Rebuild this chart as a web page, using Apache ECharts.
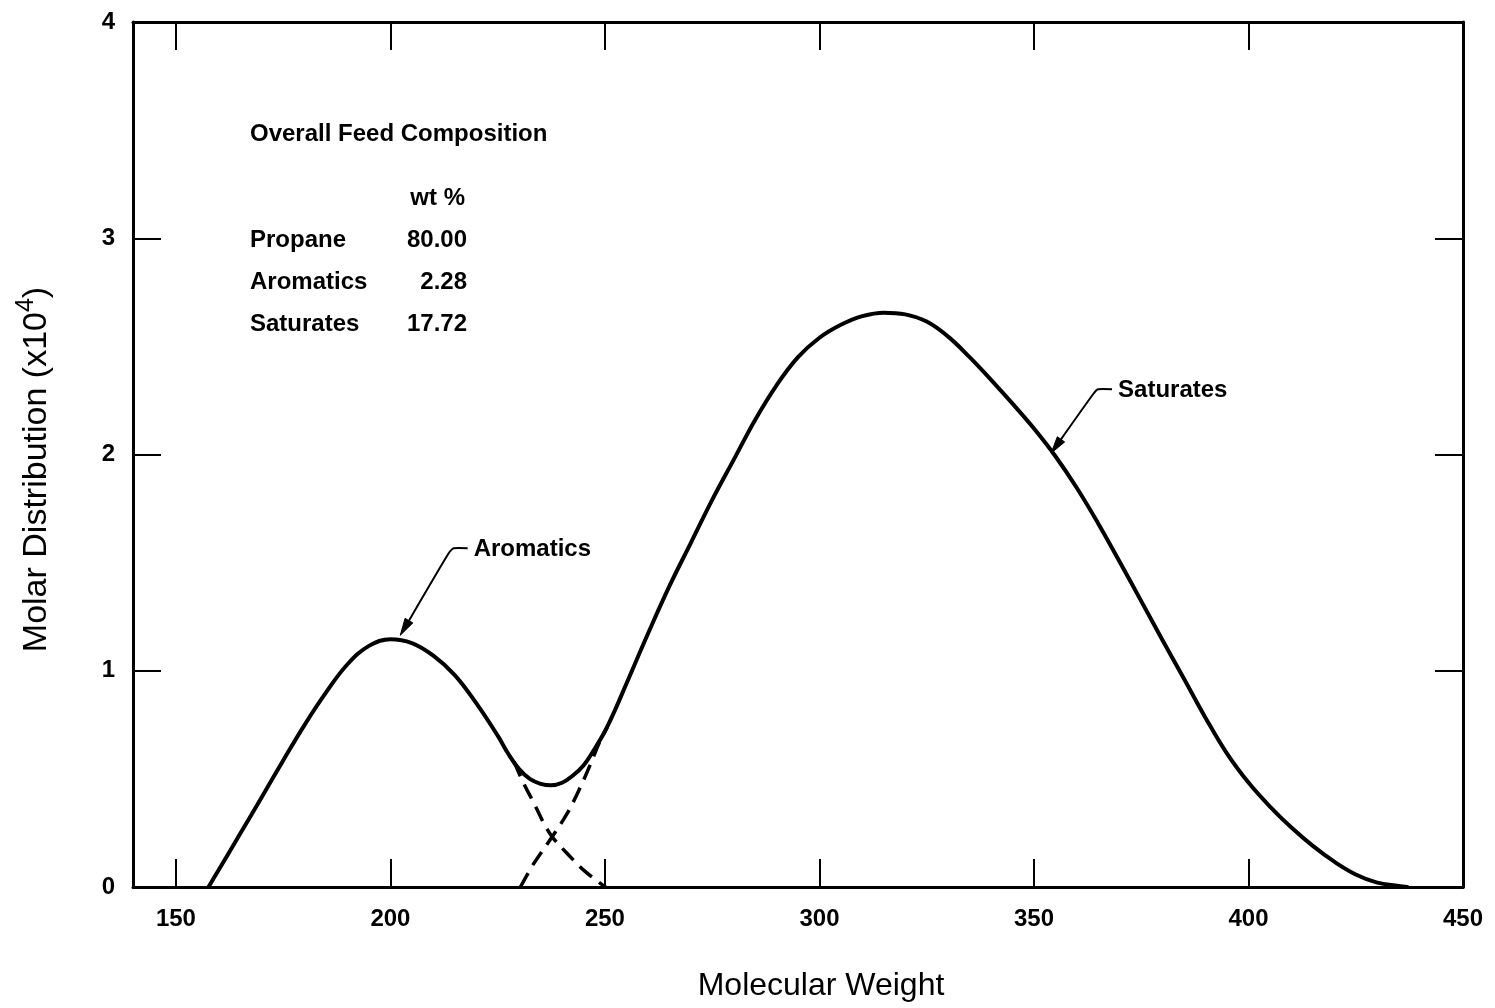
<!DOCTYPE html>
<html>
<head>
<meta charset="utf-8">
<title>Molar Distribution vs Molecular Weight</title>
<script src="https://cdn.jsdelivr.net/npm/echarts@6/dist/echarts.min.js"></script>
<style>
  html, body { margin: 0; padding: 0; background: #fff; }
  #chart { width: 1495px; height: 1008px; }
</style>
</head>
<body>
<div id="chart"></div>
<script>
// ---- data -------------------------------------------------------------
const mwTicks = [150, 200, 250, 300, 350, 400, 450];
const molarTicks = [0, 1, 2, 3, 4];

// total feed distribution (solid curve)
const feedMW = [
  157.6, 160, 165, 170, 175, 180, 185, 190, 195, 200,
  205, 210, 215, 220, 225, 227.5, 230, 232.5, 235, 237.5,
  240, 242.5, 245, 247.5, 250, 252.5, 255, 260, 265, 270,
  275, 280, 285, 290, 295, 300, 305, 310, 315, 320,
  325, 330, 335, 340, 345, 350, 355, 360, 365, 370,
  375, 380, 385, 390, 395, 400, 405, 410, 415, 420,
  425, 430, 435, 437
];
const feedMolar = [
  0.000, 0.080, 0.247, 0.415, 0.585, 0.750, 0.900, 1.030, 1.115, 1.146,
  1.128, 1.070, 0.980, 0.850, 0.700, 0.615, 0.545, 0.500, 0.477, 0.470,
  0.482, 0.515, 0.562, 0.636, 0.720, 0.825, 0.940, 1.170, 1.390, 1.590,
  1.790, 1.975, 2.160, 2.320, 2.450, 2.540, 2.600, 2.640, 2.656, 2.648,
  2.615, 2.545, 2.450, 2.345, 2.235, 2.120, 1.992, 1.845, 1.680, 1.503,
  1.322, 1.140, 0.962, 0.782, 0.617, 0.483, 0.372, 0.275, 0.190, 0.117,
  0.058, 0.020, 0.005, 0.000
];

// aromatics component, tail under the valley (dashed)
const aromaticsMW    = [228.8, 231.1, 233.5, 235.8, 237.7, 241.2, 245.1, 249.0, 250.2];
const aromaticsMolar = [0.580, 0.478, 0.386, 0.293, 0.232, 0.155, 0.077, 0.016, 0.000];

// saturates component, front under the valley (dashed)
const saturatesMW    = [230.3, 233.4, 237.7, 241.2, 244.3, 246.7, 248.6, 250.6];
const saturatesMolar = [0.000, 0.108, 0.232, 0.340, 0.463, 0.571, 0.664, 0.741];

// overall feed composition, wt %
const compTitle  = 'Overall Feed Composition';
const compHeader = 'wt %';
const compNames  = ['Propane', 'Aromatics', 'Saturates'];
const compWt     = ['80.00', '2.28', '17.72'];

// curve callouts: name, point on the curve, label anchor (data units)
const calloutNames = ['Aromatics', 'Saturates'];
const calloutTip   = [[202.3, 1.164], [354.0, 2.006]];
const calloutLabel = [[219.4, 1.562], [369.6, 2.297]];

// ---- chart ------------------------------------------------------------
const FONT = '"Liberation Sans", Arial, Helvetica, sans-serif';
const INK = '#000';
const pairs = (xs, ys) => xs.map((x, i) => [x, ys[i]]);

const frameLine = { show: true, onZero: false, lineStyle: { color: INK, width: 3 } };
const innerTick = (vals) => ({
  show: true, inside: true, length: 28,
  lineStyle: { color: INK, width: 2 },
  customValues: vals
});
const tickFont = { color: INK, fontSize: 24, fontWeight: 'bold', fontFamily: FONT };

const chart = echarts.init(document.getElementById('chart'), null, { renderer: 'canvas' });

chart.setOption({
  animation: false,
  backgroundColor: '#fff',
  grid: { left: 133, right: 32, top: 22, bottom: 121, containLabel: false, outerBoundsMode: 'none' },
  xAxis: [
    {
      type: 'value', position: 'bottom', min: 140, max: 450,
      axisLine: frameLine,
      axisTick: innerTick(mwTicks),
      axisLabel: Object.assign({ customValues: mwTicks, margin: 20 }, tickFont),
      splitLine: { show: false },
      name: 'Molecular Weight', nameLocation: 'middle', nameGap: 83,
      nameTextStyle: { color: INK, fontSize: 32, fontFamily: FONT, lineHeight: 32, padding: [0, 0, 0, 46] }
    },
    {
      type: 'value', position: 'top', min: 140, max: 450,
      axisLine: frameLine,
      axisTick: innerTick(mwTicks),
      axisLabel: { show: false },
      splitLine: { show: false }
    }
  ],
  yAxis: [
    {
      type: 'value', position: 'left', min: 0, max: 4, interval: 1,
      axisLine: frameLine,
      axisTick: innerTick(molarTicks),
      axisLabel: Object.assign({ customValues: molarTicks, margin: 18 }, tickFont),
      splitLine: { show: false },
      name: '{m|Molar Distribution (x10}{s|4}{m|)}',
      nameLocation: 'middle', nameGap: 73,
      nameTextStyle: {
        padding: [0, 30, 0, 0],
        rich: {
          m: { color: INK, fontSize: 34, fontFamily: FONT, lineHeight: 46 },
          s: { color: INK, fontSize: 25, fontFamily: FONT, lineHeight: 27, verticalAlign: 'top' }
        }
      }
    },
    {
      type: 'value', position: 'right', min: 0, max: 4, interval: 1,
      axisLine: frameLine,
      axisTick: innerTick(molarTicks),
      axisLabel: { show: false },
      splitLine: { show: false }
    }
  ],
  series: [
    {
      name: 'Feed', type: 'line', data: pairs(feedMW, feedMolar),
      smooth: 0.4, symbol: 'none', z: 4,
      lineStyle: { color: INK, width: 4, cap: 'round', join: 'round' }
    },
    {
      name: 'Aromatics', type: 'line', data: pairs(aromaticsMW, aromaticsMolar),
      smooth: 0.35, symbol: 'none', z: 3,
      lineStyle: { color: INK, width: 3.5, type: [16, 9] }
    },
    {
      name: 'Saturates', type: 'line', data: pairs(saturatesMW, saturatesMolar),
      smooth: 0.35, symbol: 'none', z: 3,
      lineStyle: { color: INK, width: 3.5, type: [16, 9] }
    }
  ]
});

// ---- annotations ------------------------------------------------------
function textEl(str, x, y, align) {
  return {
    type: 'text', z: 10, silent: true,
    style: {
      text: str, x: x, y: y,
      fill: INK, fontSize: 24, fontWeight: 'bold', fontFamily: FONT,
      align: align || 'left', textAlign: align || 'left',
      verticalAlign: 'middle', textVerticalAlign: 'middle'
    }
  };
}

const graphics = [];

// composition table
const tableLeft = 250, valueRight = 467;
graphics.push(textEl(compTitle, tableLeft, 134));
graphics.push(textEl(compHeader, valueRight - 2, 198, 'right'));
compNames.forEach((n, i) => {
  const y = 240 + i * 42;
  graphics.push(textEl(n, tableLeft, y));
  graphics.push(textEl(compWt[i], valueRight, y, 'right'));
});

// callout labels with leader arrows
const toPx = (p) => chart.convertToPixel({ gridIndex: 0 }, p);
calloutNames.forEach((name, i) => {
  const L = toPx(calloutLabel[i]);
  const T = toPx(calloutTip[i]);
  graphics.push(textEl(name, L[0], L[1]));
  const a = [L[0] - 6, L[1] - 1];
  const b = [L[0] - 20, L[1] - 1];
  const c = [L[0] - 25, L[1] + 4];
  const dx = T[0] - c[0], dy = T[1] - c[1];
  const len = Math.hypot(dx, dy);
  const ux = dx / len, uy = dy / len;
  const head = 17, half = 4.5;
  const base = [T[0] - ux * head, T[1] - uy * head];
  graphics.push({
    type: 'polyline', z: 10, silent: true,
    shape: { points: [a, b, c, base], smooth: 0.2 },
    style: { stroke: INK, lineWidth: 2, fill: null }
  });
  graphics.push({
    type: 'polygon', z: 10, silent: true,
    shape: { points: [
      [T[0], T[1]],
      [base[0] - uy * half, base[1] + ux * half],
      [base[0] + uy * half, base[1] - ux * half]
    ] },
    style: { fill: INK, stroke: INK, lineWidth: 1 }
  });
});

chart.setOption({ graphic: graphics });
</script>
</body>
</html>
